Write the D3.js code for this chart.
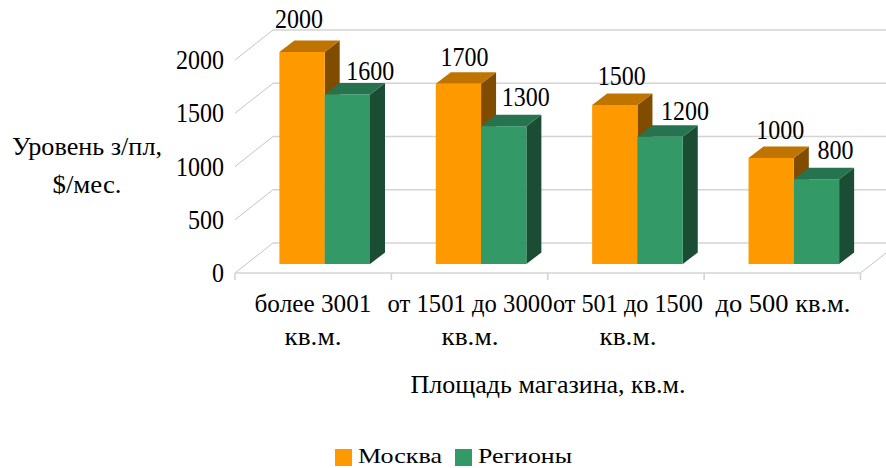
<!DOCTYPE html>
<html><head><meta charset="utf-8">
<script src="https://cdn.jsdelivr.net/npm/d3@7/dist/d3.min.js"></script>
<style>html,body{margin:0;padding:0;background:#fff}svg{display:block}text{font-family:"Liberation Serif","Times New Roman",serif;fill:#000}</style>
</head><body><svg id="c" width="886" height="468"></svg>
<script>
const categories=[["более 3001","кв.м."],["от 1501 до 3000","кв.м."],["от 501 до 1500","кв.м."],["до 500 кв.м."]];
const moscow=[2000,1700,1500,1000];
const regions=[1600,1300,1200,800];
const yTicks=[0,500,1000,1500,2000];
const seriesNames=["Москва","Регионы"];
const labelShiftMoscow=[[-3,-24],[6,-18],[7,-20],[9,-19]];
const labelShiftRegions=[[23,-14],[22,-20],[25,-17],[19,-20]];

const svg=d3.select("#c");
const depthX=38,depthY=30,barDX=15,barDY=11.5;
const x=d3.scaleBand().domain(d3.range(4)).range([235,860.5]);
const yFront=d3.scaleLinear().domain([0,2000]).range([273,60]);
const yBack=v=>yFront(v)-depthY;
const yBar=d3.scaleLinear().domain([0,2000]).range([264,52]);
const grid="#d4d4d4",diag="#c4c4c4";

function txt(px,py,s,size,len,anchor){
  return svg.append("text").attr("x",px).attr("y",py).attr("text-anchor",anchor).attr("font-size",size)
    .attr("textLength",len).attr("lengthAdjust","spacingAndGlyphs").text(s);
}
const numLen=v=>String(v).length*12;

yTicks.forEach(t=>{
  svg.append("line").attr("x1",235+depthX).attr("x2",886).attr("y1",yBack(t)).attr("y2",yBack(t)).attr("stroke",grid).attr("stroke-width",1.6);
  svg.append("line").attr("x1",235).attr("x2",235+depthX).attr("y1",yFront(t)).attr("y2",yBack(t)).attr("stroke",diag).attr("stroke-width",1);
  txt(224,yFront(t)+9,t,27,numLen(t),"end");
});
svg.append("line").attr("x1",235).attr("x2",860.5).attr("y1",273).attr("y2",273).attr("stroke",grid).attr("stroke-width",1.6);
svg.append("line").attr("x1",860.5).attr("x2",886).attr("y1",273).attr("y2",253).attr("stroke",diag);
d3.range(5).forEach(i=>{
  const px=235+i*x.bandwidth();
  svg.append("line").attr("x1",px).attr("x2",px).attr("y1",273).attr("y2",280).attr("stroke",grid).attr("stroke-width",1.6);
});

const bw=45.3,off=44.4;
function bar(v,x0,c){
  const t=yBar(v),b=yBar(0),x1=x0+bw;
  svg.append("path").attr("d",`M${x1},${t}L${x1+barDX},${t-barDY}L${x1+barDX},${b-barDY}L${x1},${b}Z`).attr("fill",c[2]);
  svg.append("path").attr("d",`M${x0},${t}L${x0+barDX},${t-barDY}L${x1+barDX},${t-barDY}L${x1},${t}Z`).attr("fill",c[1]);
  svg.append("rect").attr("x",x0).attr("y",t).attr("width",bw).attr("height",b-t).attr("fill",c[0]);
}
const orange=["#ff9900","#c07400","#804d00"],green=["#339966","#267350","#1a4d33"];
categories.forEach((c,i)=>{
  const x0=x(i)+off;
  bar(moscow[i],x0,orange);
  bar(regions[i],x0+bw,green);
});
categories.forEach((c,i)=>{
  const x0=x(i)+off;
  txt(x0+bw/2+labelShiftMoscow[i][0],yBar(moscow[i])+labelShiftMoscow[i][1],moscow[i],27,numLen(moscow[i]),"middle");
  txt(x0+bw*1.5+labelShiftRegions[i][0],yBar(regions[i])+labelShiftRegions[i][1],regions[i],27,numLen(regions[i]),"middle");
});
const catW=[[117,57],[165,57],[150,57],[135,0]];
const catX=[313,470,628,783];
categories.forEach((c,i)=>{
  c.forEach((s,j)=>txt(catX[i],j?345:312,s,25,catW[i][j],"middle"));
});
txt(87,155,"Уровень з/пл,",25,150,"middle");
txt(87,193,"$/мес.",25,69,"middle");
txt(548,393,"Площадь магазина, кв.м.",25,275,"middle");
[[335,358,84,orange[0]],[455,478,94,green[0]]].forEach((l,i)=>{
  svg.append("rect").attr("x",l[0]).attr("y",449).attr("width",17).attr("height",17).attr("fill",l[3]);
  txt(l[1],463,seriesNames[i],22,l[2],"start");
});
</script></body></html>
